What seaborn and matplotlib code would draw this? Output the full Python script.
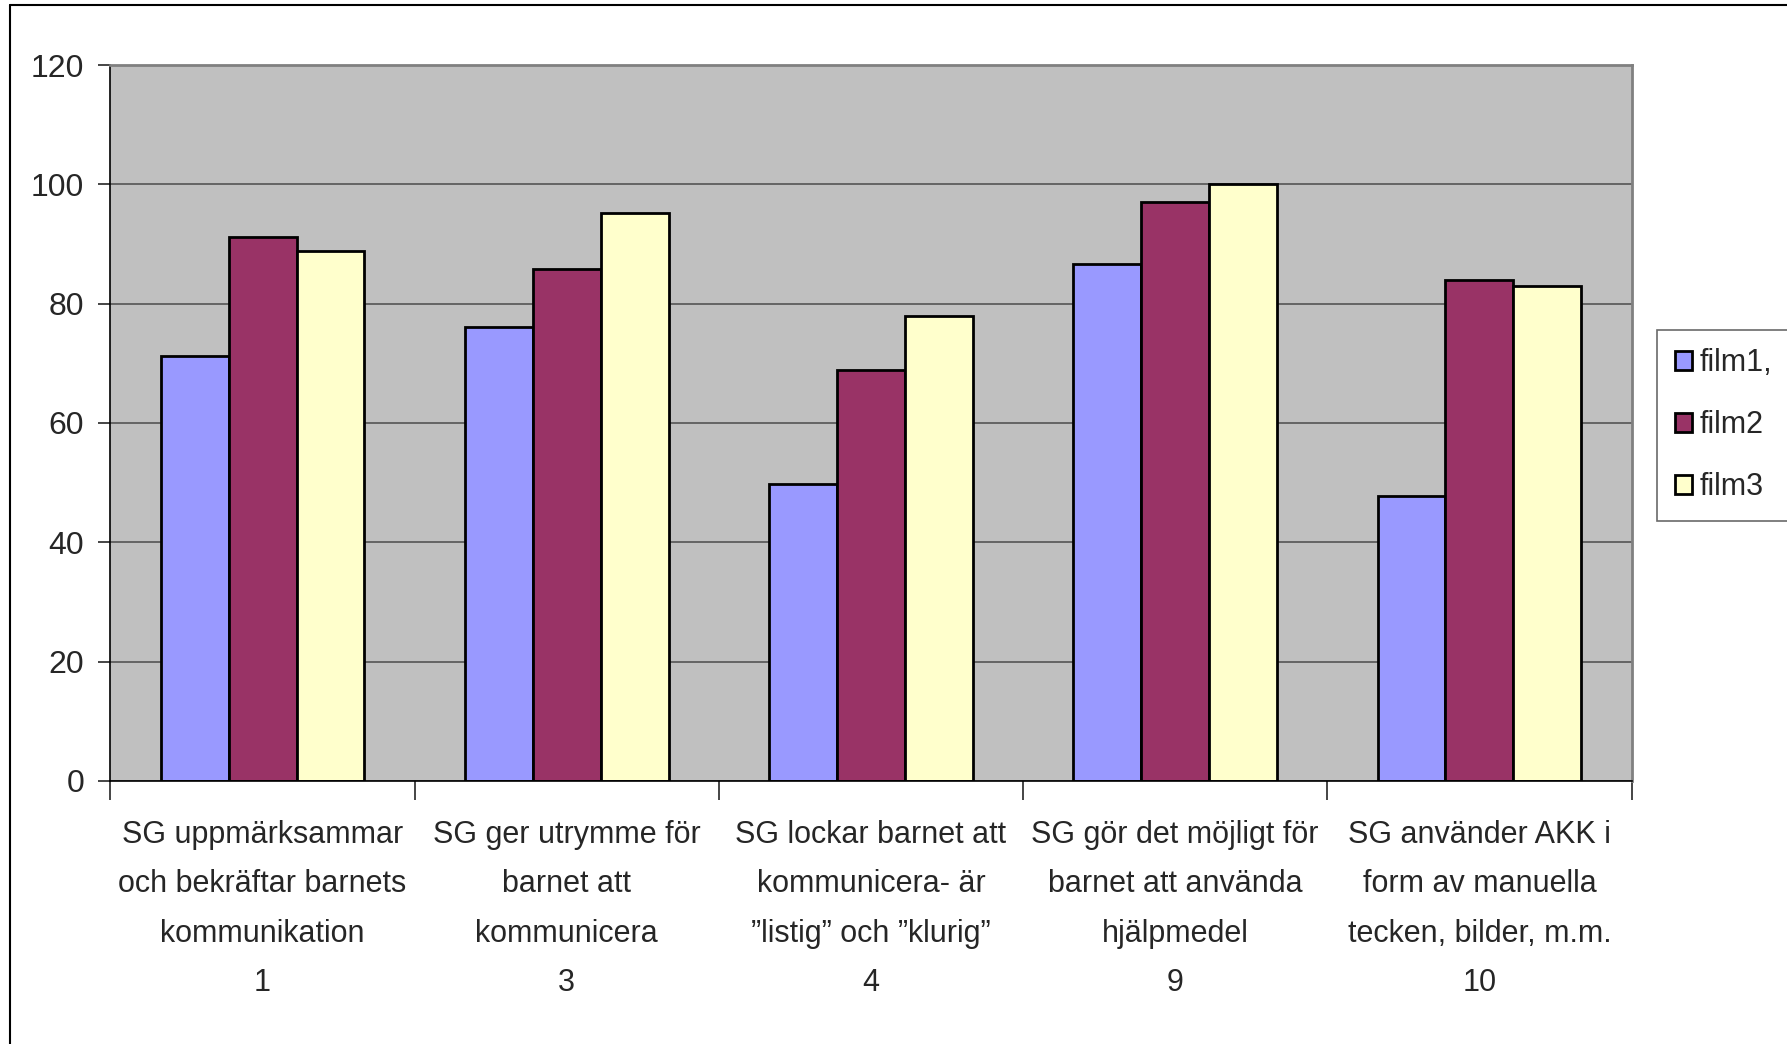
import pandas as pd
import seaborn as sns
import matplotlib.pyplot as plt
from matplotlib.lines import Line2D

categories = ['SG uppmärksammar\noch bekräftar barnets\nkommunikation\n1',
              'SG ger utrymme för\nbarnet att\nkommunicera\n3',
              'SG lockar barnet att\nkommunicera- är\n”listig” och ”klurig”\n4',
              'SG gör det möjligt för\nbarnet att använda\nhjälpmedel\n9',
              'SG använder AKK i\nform av manuella\ntecken, bilder, m.m.\n10']
film1 = [71.2, 76.1, 49.8, 86.7, 47.8]
film2 = [91.2, 85.8, 68.8, 97.0, 84.0]
film3 = [88.8, 95.2, 78.0, 100.0, 82.9]
series_names = ['film1,', 'film2', 'film3']
colors = ['#9999FF', '#993366', '#FFFFCC']

rows = []
for name, vals in zip(series_names, [film1, film2, film3]):
    for cat, v in zip(categories, vals):
        rows.append({'kategori': cat, 'värde': v, 'film': name})
df = pd.DataFrame(rows)

sns.set_style('white')
plt.rcParams['font.family'] = ['Liberation Sans', 'DejaVu Sans']

fig = plt.figure(figsize=(17.87, 10.44), dpi=100)
ax = fig.add_axes([0.0618, 0.252, 0.913 - 0.0618, 0.9377 - 0.252])
ax.set_facecolor('#C0C0C0')

sns.barplot(data=df, x='kategori', y='värde', hue='film', palette=colors,
            width=0.67, gap=0, saturation=1, edgecolor='black', linewidth=2,
            errorbar=None, ax=ax)

ax.set_ylim(0, 120)
ax.set_xlim(-0.5, 4.5)
ax.set_yticks(range(0, 121, 20))
ax.yaxis.grid(True, color='#555555', linewidth=1.2)
ax.set_axisbelow(True)
ax.set_xlabel('')
ax.set_ylabel('')

ax.tick_params(axis='y', labelsize=23, length=9, width=1.2, direction='out', pad=10, left=True)
ax.tick_params(axis='x', which='major', labelsize=22, length=0, pad=28)
ax.set_xticks([i + 0.5 for i in range(-1, 5)], minor=True)
ax.tick_params(axis='x', which='minor', length=14, width=1.2, direction='out', bottom=True)
for lbl in ax.get_xticklabels():
    lbl.set_linespacing(1.85)

for side in ['left', 'bottom']:
    ax.spines[side].set_color('black')
    ax.spines[side].set_linewidth(1.2)
for side in ['top', 'right']:
    ax.spines[side].set_visible(True)
    ax.spines[side].set_color('#808080')
    ax.spines[side].set_linewidth(2)

ax.get_legend().remove()
handles, labels = ax.get_legend_handles_labels()
leg = fig.legend(handles, labels, loc='upper left', bbox_to_anchor=(0.927, 0.684),
                 fontsize=22, frameon=True, fancybox=False, edgecolor='#444444',
                 handlelength=0.55, handleheight=0.55, handletextpad=0.25,
                 labelspacing=1.05, borderpad=0.6, borderaxespad=0)
leg.get_frame().set_linewidth(1.2)

# thin frame on the top and left edges of the figure
fig.lines.append(Line2D([0.0056, 1.0], [0.9952, 0.9952], transform=fig.transFigure,
                        color='black', linewidth=1.5))
fig.lines.append(Line2D([0.0056, 0.0056], [0.0, 0.9952], transform=fig.transFigure,
                        color='black', linewidth=1.5))

fig.savefig('out.png', dpi=100, facecolor='white')
